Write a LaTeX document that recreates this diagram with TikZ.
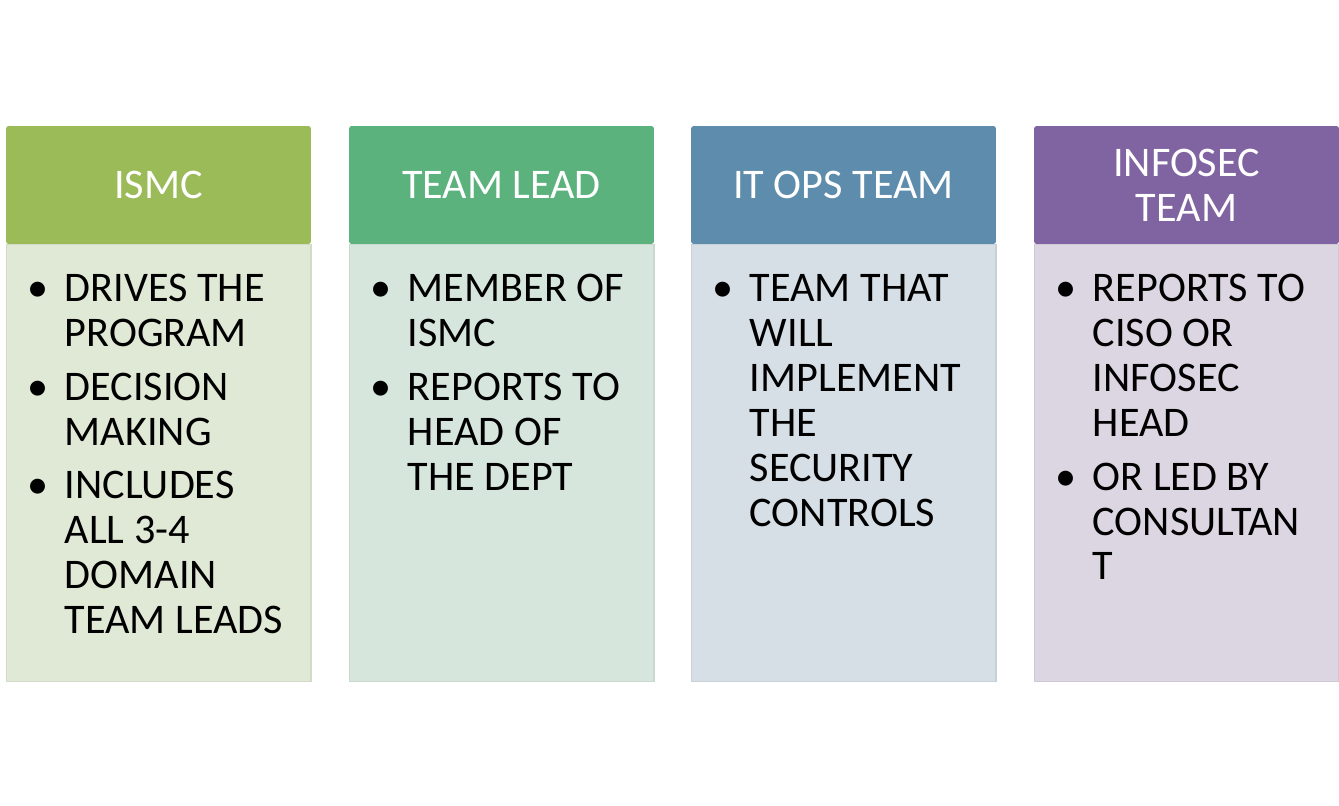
\documentclass[tikz,border=0pt]{standalone}
\usepackage{fontspec}
\setmainfont{Carlito}
\definecolor{OliveHead}{RGB}{155,187,89}
\definecolor{OliveBody}{RGB}{224,233,213}
\definecolor{GreenHead}{RGB}{92,178,125}
\definecolor{GreenBody}{RGB}{214,230,221}
\definecolor{BlueHead}{RGB}{93,140,172}
\definecolor{BlueBody}{RGB}{214,222,230}
\definecolor{PurpleHead}{RGB}{128,100,162}
\definecolor{PurpleBody}{RGB}{220,214,226}
\usetikzlibrary{positioning}

\begin{document}
\begin{tikzpicture}[x=0.02cm, y=-0.02cm,
                head/.style={rectangle, rounded corners=1.5pt, minimum width=6.1cm, minimum height=2.36cm, inner sep=0pt, text=white, align=center, font=\fontsize{24}{25.6}\selectfont},
                body/.style={rectangle, minimum width=6.1cm, minimum height=8.74cm, inner sep=0pt, line width=0.6pt},
                list/.style={inner sep=0pt, font=\fontsize{24}{25.6}\selectfont}]

                \useasboundingbox (0,0) rectangle (1339,805);

                % Headers
                \node[head, fill=OliveHead] (ismc) at (158.5,185) {ISMC};
                \node[head, fill=GreenHead] (lead) at (501.5,185) {TEAM LEAD};
                \node[head, fill=BlueHead] (itops) at (843.5,185) {IT OPS TEAM};
                \node[head, fill=PurpleHead] (infosec) at (1186.5,185) {INFOSEC\\TEAM};

                % Bodies
                \node[body, fill=OliveBody, draw=OliveBody!94!black, below=0pt of ismc] (ismcbody) {};
                \node[body, fill=GreenBody, draw=GreenBody!94!black, below=0pt of lead] (leadbody) {};
                \node[body, fill=BlueBody, draw=BlueBody!94!black, below=0pt of itops] (itopsbody) {};
                \node[body, fill=PurpleBody, draw=PurpleBody!94!black, below=0pt of infosec] (infosecbody) {};

                % Bullet lists
                \node[list, below right=0.51cm and 0.44cm of ismcbody.north west] (ismclist) {%
                    \begin{tabular}{@{}p{0.74cm}@{}l@{}}
                    \textbullet & DRIVES THE \\ & PROGRAM \\[4.8pt]
                    \textbullet & DECISION \\ & MAKING \\[4.8pt]
                    \textbullet & INCLUDES \\ & ALL 3-4 \\ & DOMAIN \\ & TEAM LEADS
                    \end{tabular}};
                \node[list, below right=0.51cm and 0.44cm of leadbody.north west] (leadlist) {%
                    \begin{tabular}{@{}p{0.74cm}@{}l@{}}
                    \textbullet & MEMBER OF \\ & ISMC \\[4.8pt]
                    \textbullet & REPORTS TO \\ & HEAD OF \\ & THE DEPT
                    \end{tabular}};
                \node[list, below right=0.51cm and 0.44cm of itopsbody.north west] (itopslist) {%
                    \begin{tabular}{@{}p{0.74cm}@{}l@{}}
                    \textbullet & TEAM THAT \\ & WILL \\ & IMPLEMENT \\ & THE \\ & SECURITY \\ & CONTROLS
                    \end{tabular}};
                \node[list, below right=0.51cm and 0.44cm of infosecbody.north west] (infoseclist) {%
                    \begin{tabular}{@{}p{0.74cm}@{}l@{}}
                    \textbullet & REPORTS TO \\ & CISO OR \\ & INFOSEC \\ & HEAD \\[4.8pt]
                    \textbullet & OR LED BY \\ & CONSULTAN \\ & T
                    \end{tabular}};
            \end{tikzpicture}
\end{document}
